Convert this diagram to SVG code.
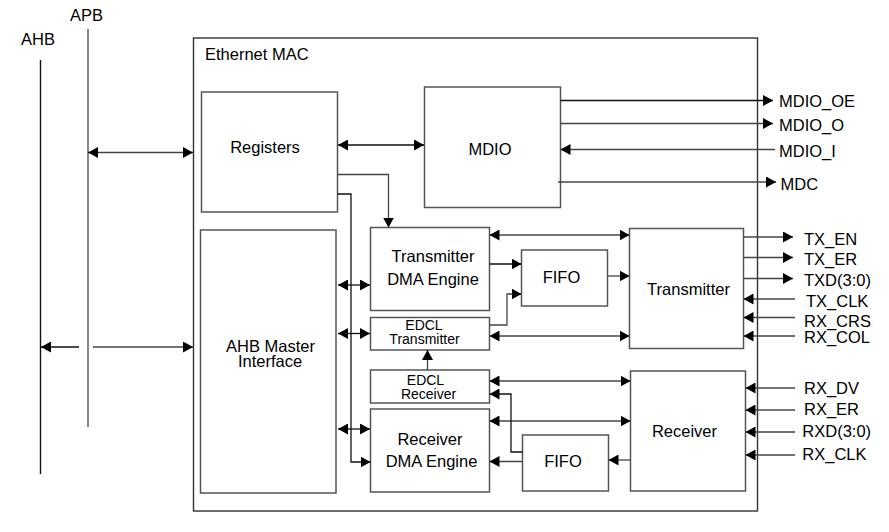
<svg xmlns="http://www.w3.org/2000/svg" width="889" height="532" viewBox="0 0 889 532">
<defs>
<marker id="ah" viewBox="0 0 10 11" refX="10" refY="5.5" markerWidth="10" markerHeight="11" markerUnits="userSpaceOnUse" orient="auto-start-reverse">
<path d="M0,0 L10,5.5 L0,11 z" fill="#000"/>
</marker>
<style>
.box{fill:#fff;stroke:#555;stroke-width:1.5}
.mac{fill:#fff;stroke:#333;stroke-width:1.4}
.c{fill:none;stroke:#444;stroke-width:1.3}
.k{fill:none;stroke:#111;stroke-width:1.3}
.e{marker-end:url(#ah)}
.d{marker-start:url(#ah);marker-end:url(#ah)}
text{font-family:"Liberation Sans",Arial,sans-serif;font-size:16.5px;fill:#000}
.m{text-anchor:middle}
.s{font-size:14px}
</style>
</defs>
<rect width="889" height="532" fill="#fff"/>
<g id="buses">
<line x1="40.5" y1="60" x2="40.5" y2="474" stroke="#111" stroke-width="1.4"/>
<line x1="88" y1="29" x2="88" y2="427" stroke="#555" stroke-width="1.4"/>
<text x="21" y="45">AHB</text>
<text x="70" y="20.5">APB</text>
</g>
<g id="ethernet-mac">
<rect class="mac" x="193.5" y="38" width="564" height="473"/>
<text x="205" y="60">Ethernet MAC</text>
</g>
<g id="registers">
<rect class="box" x="201.5" y="92" width="136" height="120"/>
<text class="m" x="265" y="152.7">Registers</text>
</g>
<g id="mdio">
<rect class="box" x="424.5" y="87" width="136" height="120.5"/>
<text class="m" x="490" y="155">MDIO</text>
</g>
<g id="ahb-master">
<rect class="box" x="200.5" y="230" width="135.5" height="263"/>
<text class="m" x="270.5" y="351.7">AHB Master</text>
<text class="m" x="270" y="366.7">Interface</text>
</g>
<g id="tx-dma">
<rect class="box" x="370.5" y="227.5" width="119" height="83"/>
<text class="m" x="433" y="261.5">Transmitter</text>
<text class="m" x="433" y="285">DMA Engine</text>
</g>
<g id="edcl-tx">
<rect class="box" x="370.5" y="317.5" width="119" height="32.5"/>
<text class="m s" x="424" y="330">EDCL</text>
<text class="m s" x="424.5" y="344">Transmitter</text>
</g>
<g id="tx-fifo">
<rect class="box" x="521.5" y="250" width="86" height="56"/>
<text class="m" x="561.5" y="282.7">FIFO</text>
</g>
<g id="transmitter">
<rect class="box" x="629.5" y="228.5" width="114" height="120"/>
<text class="m" x="688.5" y="295">Transmitter</text>
</g>
<g id="edcl-rx">
<rect class="box" x="370.5" y="370" width="119" height="33"/>
<text class="m s" x="425.5" y="385">EDCL</text>
<text class="m s" x="428.5" y="399.3">Receiver</text>
</g>
<g id="rx-dma">
<rect class="box" x="370.5" y="409" width="119" height="83"/>
<text class="m" x="430" y="445">Receiver</text>
<text class="m" x="431.5" y="466.7">DMA Engine</text>
</g>
<g id="rx-fifo">
<rect class="box" x="522.5" y="435" width="86" height="56"/>
<text class="m" x="563" y="467.3">FIFO</text>
</g>
<g id="receiver">
<rect class="box" x="630.5" y="371" width="115" height="120"/>
<text class="m" x="684.5" y="436.7">Receiver</text>
</g>
<g id="connectors">
<path class="c d" d="M88,152.5 H193"/>
<path class="k e" d="M79,347 H41"/>
<path class="c e" d="M93,347 H193"/>
<path class="k d" d="M338,145 H424"/>
<path class="c e" d="M337.5,174.5 H388.5 V227.5"/>
<path class="k e" d="M337.5,194 H351 V462 H370.5"/>
<path class="k d" d="M338,285 H370"/>
<path class="k d" d="M338,333.5 H370"/>
<path class="k d" d="M338,429 H370"/>
<path class="k e" d="M489.5,264 H521.5"/>
<path class="c e" d="M489.5,325 H507 V294 H521.5"/>
<path class="c e" d="M607.5,276 H629.5"/>
<path class="c d" d="M489.5,235 H629.5"/>
<path class="c d" d="M489.5,336 H629.5"/>
<path class="c e" d="M427.5,370 V350"/>
<path class="c d" d="M489.5,381 H630.5"/>
<path class="c d" d="M489.5,421 H630.5"/>
<path class="c e" d="M630.5,460 H608.5"/>
<path class="c e" d="M522.5,461.5 H489.5"/>
<path class="k e" d="M522.5,452 H511 V394 H489.5"/>
<path class="k e" d="M560.5,100.5 H773"/>
<path class="c e" d="M560.5,123.5 H773"/>
<path class="c e" d="M775,149.5 H560.5"/>
<path class="c e" d="M558,182 H776"/>
<path class="c e" d="M743.5,237 H793"/>
<path class="c e" d="M743.5,257.5 H793"/>
<path class="c e" d="M743.5,278.5 H793"/>
<path class="c e" d="M795,299 H743.5"/>
<path class="c e" d="M795,317.5 H743.5"/>
<path class="c e" d="M795,336 H743.5"/>
<path class="c e" d="M795,388 H745.5"/>
<path class="c e" d="M795,410 H745.5"/>
<path class="c e" d="M795,432 H745.5"/>
<path class="c e" d="M795,455 H745.5"/>
</g>
<g id="signals">
<text x="779" y="107.3">MDIO_OE</text>
<text x="779" y="130.7">MDIO_O</text>
<text x="779" y="157.3">MDIO_I</text>
<text x="780.5" y="190">MDC</text>
<text x="804" y="245">TX_EN</text>
<text x="804" y="265.3">TX_ER</text>
<text x="804" y="285.5">TXD(3:0)</text>
<text x="806" y="307.3">TX_CLK</text>
<text x="804" y="326.7">RX_CRS</text>
<text x="804" y="343.3">RX_COL</text>
<text x="804" y="394.3">RX_DV</text>
<text x="804" y="415">RX_ER</text>
<text x="802.3" y="436.7">RXD(3:0)</text>
<text x="802.3" y="460">RX_CLK</text>
</g>
</svg>
